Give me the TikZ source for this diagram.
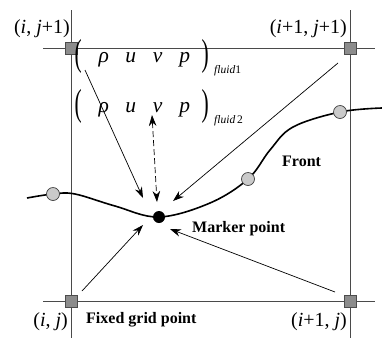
\documentclass[tikz,border=0pt]{standalone}
\usepackage{fontspec}
\setmainfont{Liberation Serif}
\usepackage{graphicx}
\usetikzlibrary{arrows.meta}
\definecolor{gridc}{HTML}{4A4A4A}
\definecolor{sqfill}{HTML}{8C8C8C}
\definecolor{cfill}{HTML}{CACACA}
\newcommand{\fluidrow}[1]{%
\makebox[24pt]{\raisebox{-3pt}{\scalebox{1}[1.75]{(}}}%
\makebox[27pt]{\textit{ρ}}%
\makebox[27pt]{\textit{u}}%
\makebox[27pt]{\textit{v}}%
\makebox[27pt]{\textit{p}}%
\makebox[14pt]{\raisebox{-3pt}{\scalebox{1}[1.75]{)}}}%
\hspace{2pt}\raisebox{-11pt}{\fontsize{11.5}{12}\selectfont\textit{fluid}#1}}
\tikzset{
 gridline/.style={draw=gridc, line width=0.8pt},
 gridpt/.style={rectangle, draw=black!70, fill=sqfill, minimum size=12pt, inner sep=0pt, line width=0.7pt},
 frontpt/.style={circle, draw=black!75, fill=cfill, minimum size=13pt, inner sep=0pt, line width=0.7pt},
 markerpt/.style={circle, fill=black, minimum size=12pt, inner sep=0pt},
 arr/.style={-{Stealth[length=11pt,width=7.5pt]}, line width=0.7pt},
 lbl/.style={font=\fontsize{16}{18}\selectfont\bfseries, inner sep=0pt},
 corner/.style={font=\fontsize{20}{22}\selectfont, inner sep=0pt},
 vecrow/.style={font=\fontsize{21.5}{24}\selectfont, inner sep=0pt, anchor=base west},
}
\begin{document}
\begin{tikzpicture}[x=1pt,y=-1pt]
\useasboundingbox (0,0) rectangle (382,338);
% grid line ends
\coordinate (vl1) at (71,10);  \coordinate (vl2) at (71,338);
\coordinate (vr1) at (350,10); \coordinate (vr2) at (350,338);
\coordinate (ht1) at (43,48);  \coordinate (ht2) at (375,48);
\coordinate (hb1) at (43,301); \coordinate (hb2) at (375,301);
\draw[gridline] (vl1) -- (vl2);
\draw[gridline] (vr1) -- (vr2);
\draw[gridline] (ht1) -- (ht2);
\draw[gridline] (hb1) -- (hb2);
% front curve
\draw[line width=1.6pt] plot[smooth, tension=0.6] coordinates {(27,198) (53,194) (75,194) (115,206) (159,217) (210,203) (248,179) (270,150) (293,127) (340,112) (382,108)};
% grid points
\node[gridpt] (g01) at (71,48) {};
\node[gridpt] (g11) at (350,48) {};
\node[gridpt] (g00) at (71,301) {};
\node[gridpt] (g10) at (350,301) {};
% front points
\node[frontpt] (f1) at (53,194) {};
\node[frontpt] (f2) at (248,179) {};
\node[frontpt] (f3) at (340,112) {};
\node[markerpt] (m) at (159,217) {};
% arrow ends
\coordinate (a1s) at (85,70);   \coordinate (a1e) at (143,198);
\coordinate (a2s) at (152,115); \coordinate (a2e) at (157,202);
\coordinate (a3s) at (338,63);  \coordinate (a3e) at (173,201);
\coordinate (a4s) at (82,291);  \coordinate (a4e) at (143,225);
\coordinate (a5s) at (335,292); \coordinate (a5e) at (170,229);
\draw[arr] (a1s) -- (a1e);
\draw[arr, {Stealth[length=11pt,width=7.5pt]}-{Stealth[length=11pt,width=7.5pt]}, dash pattern=on 6pt off 3pt] (a2s) -- (a2e);
\draw[arr] (a3s) -- (a3e);
\draw[arr] (a4s) -- (a4e);
\draw[arr] (a5s) -- (a5e);
% vectors
\node[vecrow] (row1) at (66,62) {\fluidrow{1}};
\node[vecrow] (row2) at (66,112) {\fluidrow{\,2}};
% corner labels
\node[corner, anchor=base east] (l01) at (70,33) {(\textit{i}, \textit{j}+1)};
\node[corner, anchor=base east] (l11) at (347,33) {(\textit{i}+1, \textit{j}+1)};
\node[corner, anchor=base east] (l00) at (68,326) {(\textit{i}, \textit{j})};
\node[corner, anchor=base east] (l10) at (347,326) {(\textit{i}+1, \textit{j})};
% text labels
\node[lbl, anchor=base west] (fg) at (86,323) {Fixed grid point};
\node[lbl, anchor=base west] (fr) at (282,166) {Front};
\node[lbl, anchor=base west] (mp) at (192,232) {Marker point};
\end{tikzpicture}
\end{document}
